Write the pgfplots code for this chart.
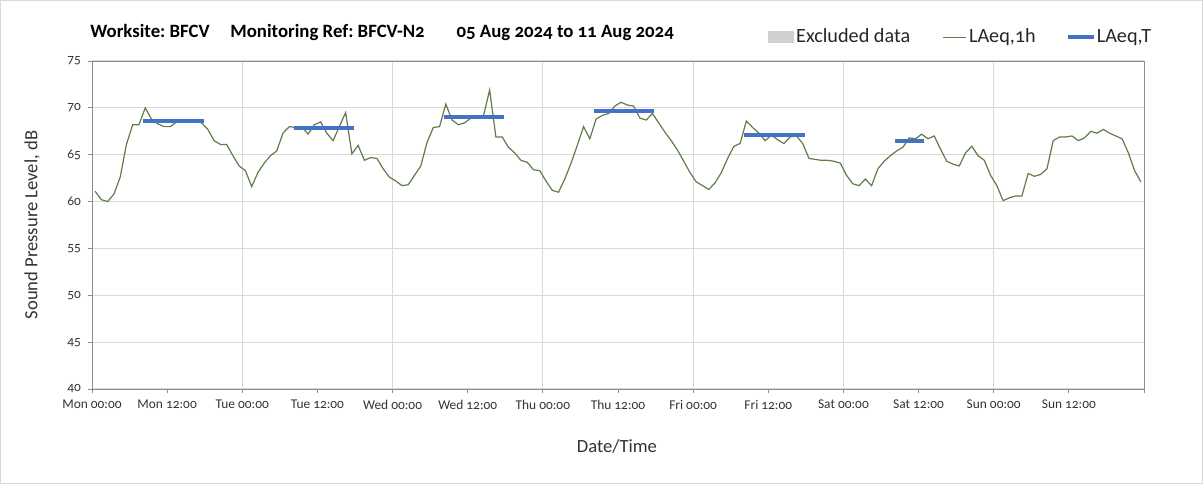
\documentclass[border=0pt]{standalone}
\usepackage{pgfplots}
\pgfplotsset{compat=1.18}
\usepackage{fontspec}
\setmainfont{Carlito}[Numbers=OldStyle]
\frenchspacing
\definecolor{gridc}{HTML}{D9D9D9}
\definecolor{axc}{HTML}{8C8C8C}
\definecolor{lineg}{HTML}{5E7D4A}
\definecolor{lineb}{HTML}{4472C4}
\definecolor{exclc}{HTML}{D0D0D0}
\begin{document}
\begin{tikzpicture}
\begin{axis}[
  scale only axis,
  width=526pt, height=164pt,
  xmin=0, xmax=168, ymin=40, ymax=75,
  xtick={0,12,...,168},
  xticklabels={Mon 00:00,Mon 12:00,Tue 00:00,Tue 12:00,Wed 00:00,Wed 12:00,Thu 00:00,Thu 12:00,Fri 00:00,Fri 12:00,Sat 00:00,Sat 12:00,Sun 00:00,Sun 12:00,{}},
  minor xtick={24,48,...,144},
  xminorgrids=true,
  ymajorgrids=true,
  ytick={40,45,...,75},
  minor tick length=0pt,
  major tick length=2pt,
  tick align=outside,
  xtick pos=bottom, ytick pos=left,
  /pgf/number format/assume math mode=true,
  ticklabel style={font=\fontsize{6.7}{8}\selectfont, text=black!80},
  axis line style={axc},
  every tick/.style={axc},
  grid style={gridc, line width=0.6pt},
  minor grid style={gridc, line width=0.6pt},
  xlabel={Date/Time},
  ylabel={Sound Pressure Level, dB},
  label style={font=\fontsize{9.3}{11}\selectfont, text=black!80},
  xlabel style={at={(axis description cs:0.499,-0.174)}, anchor=center},
  ylabel style={at={(axis description cs:-0.057,0.5)}, anchor=center},
  unbounded coords=jump,
  legend columns=3,
  legend style={draw=none, fill=none, at={(axis description cs:1.0152,1.073)}, anchor=east,
    font=\fontsize{10.1}{11}\selectfont, text=black!85,
    /tikz/every even column/.append style={column sep=15pt},
    nodes={inner sep=1.2pt}},
]
\addlegendimage{legend image code/.code={\fill[exclc] (0pt,-2.6pt) rectangle (12.5pt,2.6pt);}}
\addlegendentry{Excluded data}
\addplot[lineg, line width=0.6pt, legend image code/.code={\draw[lineg, line width=0.5pt] (0pt,0pt) -- (11.5pt,0pt);}] coordinates {
(0.5,61.1) (1.5,60.2) (2.5,60.0) (3.5,60.8) (4.5,62.6) (5.5,66.1) (6.5,68.2) (7.5,68.2)
(8.5,70.0) (9.5,68.8) (10.5,68.3) (11.5,68.0) (12.5,68.0) (13.5,68.5) (14.5,68.6) (15.5,68.6)
(16.5,68.6) (17.5,68.4) (18.5,67.7) (19.5,66.5) (20.5,66.1) (21.5,66.1) (22.5,64.9) (23.5,63.8)
(24.5,63.3) (25.5,61.6) (26.5,63.1) (27.5,64.1) (28.5,64.9) (29.5,65.4) (30.5,67.3) (31.5,68.0)
(32.5,67.9) (33.5,68.0) (34.5,67.2) (35.5,68.2) (36.5,68.5) (37.5,67.3) (38.5,66.5) (39.5,68.0)
(40.5,69.5) (41.5,65.1) (42.5,66.0) (43.5,64.4) (44.5,64.7) (45.5,64.6) (46.5,63.5) (47.5,62.6)
(48.5,62.2) (49.5,61.7) (50.5,61.8) (51.5,62.8) (52.5,63.8) (53.5,66.3) (54.5,67.9) (55.5,68.0)
(56.5,70.4) (57.5,68.7) (58.5,68.2) (59.5,68.4) (60.5,68.9) (61.5,69.0) (62.5,69.1) (63.5,71.9)
(64.5,66.9) (65.5,66.9) (66.5,65.8) (67.5,65.2) (68.5,64.4) (69.5,64.2) (70.5,63.4) (71.5,63.3)
(72.5,62.2) (73.5,61.2) (74.5,61.0) (75.5,62.4) (76.5,64.1) (77.5,66.0) (78.5,68.0) (79.5,66.7)
(80.5,68.8) (81.5,69.2) (82.5,69.4) (83.5,70.2) (84.5,70.6) (85.5,70.3) (86.5,70.2) (87.5,68.9)
(88.5,68.7) (89.5,69.4) (90.5,68.4) (91.5,67.4) (92.5,66.5) (93.5,65.5) (94.5,64.3) (95.5,63.1)
(96.5,62.1) (97.5,61.7) (98.5,61.3) (99.5,62.0) (100.5,63.1) (101.5,64.6) (102.5,65.9) (103.5,66.2)
(104.5,68.6) (105.5,67.9) (106.5,67.3) (107.5,66.5) (108.5,67.1) (109.5,66.6) (110.5,66.2) (111.5,66.9)
(112.5,67.0) (113.5,66.2) (114.5,64.6) (115.5,64.5) (116.5,64.4) (117.5,64.4) (118.5,64.3) (119.5,64.1)
(120.5,62.8) (121.5,61.9) (122.5,61.7) (123.5,62.4) (124.5,61.7) (125.5,63.5) (126.5,64.3) (127.5,64.9)
(128.5,65.4) (129.5,65.8) (130.5,66.8) (131.5,66.7) (132.5,67.2) (133.5,66.7) (134.5,67.0) (135.5,65.6)
(136.5,64.3) (137.5,64.0) (138.5,63.8) (139.5,65.2) (140.5,65.9) (141.5,64.9) (142.5,64.4) (143.5,62.8)
(144.5,61.7) (145.5,60.1) (146.5,60.4) (147.5,60.6) (148.5,60.6) (149.5,63.0) (150.5,62.7) (151.5,62.9)
(152.5,63.5) (153.5,66.5) (154.5,66.9) (155.5,66.9) (156.5,67.0) (157.5,66.5) (158.5,66.8) (159.5,67.5)
(160.5,67.3) (161.5,67.7) (162.5,67.3) (163.5,67.0) (164.5,66.7) (165.5,65.2) (166.5,63.3) (167.5,62.1)
};
\addlegendentry{LAeq,1h}
\addplot[lineb, line width=2pt, line cap=rect, legend image code/.code={\draw[lineb, line width=1.6pt] (0pt,0pt) -- (11.5pt,0pt);}] coordinates {
(8.5,68.6) (17.5,68.6) (17.5,nan)
(32.5,67.8) (41.5,67.8) (41.5,nan)
(56.5,69.0) (65.5,69.0) (65.5,nan)
(80.5,69.65) (89.5,69.65) (89.5,nan)
(104.5,67.1) (113.5,67.1) (113.5,nan)
(128.5,66.45) (132.5,66.45)
};
\addlegendentry{LAeq,T}
\end{axis}
\node[anchor=west, font=\bfseries\fontsize{9.4}{11}\selectfont, inner sep=0pt, text=black] at (-1pt,178.5pt)
  {Worksite: BFCV\hspace{1.1em}Monitoring Ref: BFCV-N2\hspace{1.7em}05 Aug 2024 to 11 Aug 2024};
\draw[black!15, line width=0.5pt] (-45.75pt,-47.25pt) rectangle (555.25pt,194.25pt);
\end{tikzpicture}
\end{document}
